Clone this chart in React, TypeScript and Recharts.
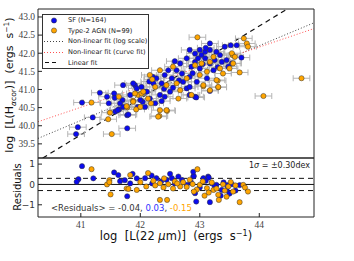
import React from 'react'
import {
  ComposedChart,
  Scatter,
  Line,
  XAxis,
  YAxis,
  ErrorBar,
  ReferenceLine,
} from 'recharts'

// main panel: log L(Halpha_cor) vs log L(22um)
const SF_X = [41.02, 41.2, 40.95, 40.92, 41.78, 41.56, 41.47, 41.58, 41.78, 41.7, 41.96, 42.36, 42.04, 41.91, 42.21, 42.07, 41.44, 41.57, 41.32, 41.71, 41.64, 41.66, 41.8, 41.88, 42.02, 42.11, 42.16, 42.27, 42.36, 42.41, 42.53, 42.61, 42.7, 42.78, 42.83, 42.92, 42.86, 42.92, 43.03, 43.09, 43.17, 43.28, 43.25, 43.34, 43.42, 43.17, 43.0, 42.83, 42.5, 42.33, 42.0, 41.83, 42.78, 42.92, 43.0, 43.45, 43.48, 43.62, 43.7, 43.17, 43.52, 43.54, 43.17, 42.94, 42.83, 41.71, 41.94, 42.22, 42.47, 42.67, 42.72, 42.95, 43.12, 43.23, 43.37, 43.09, 42.83, 42.41, 42.25, 42.08, 41.62, 42.55, 42.65, 42.88, 43.05, 42.4, 42.15, 43.3, 42.58, 42.97, 43.1]
const SF_Y = [40.64, 40.23, 39.96, 39.77, 39.93, 40.89, 40.62, 40.39, 40.29, 40.71, 40.52, 40.68, 40.66, 41.12, 41.35, 40.94, 40.8, 40.77, 40.91, 40.52, 40.45, 40.62, 40.31, 41.17, 41.07, 40.94, 40.75, 41.31, 41.17, 41.4, 41.31, 41.53, 41.44, 41.03, 41.07, 40.8, 41.63, 41.99, 41.95, 42.04, 42.09, 42.04, 41.81, 41.95, 42.18, 41.72, 41.58, 41.35, 40.94, 40.85, 40.71, 40.85, 41.86, 41.76, 42.09, 41.81, 41.63, 42.22, 41.88, 42.27, 42.22, 41.72, 40.96, 40.78, 40.85, 41.12, 41.03, 41.17, 41.53, 41.72, 41.21, 41.21, 41.31, 41.53, 41.76, 41.86, 42.09, 40.8, 40.62, 40.52, 40.43, 41.05, 41.25, 41.45, 41.7, 41.02, 41.22, 41.62, 41.78, 41.86, 42.15]
const AGN_X = [42.96, 43.74, 43.79, 43.81, 43.67, 43.56, 43.55, 44.71, 44.07, 43.54, 43.59, 43.5, 43.31, 43.3, 43.06, 42.45, 42.32, 41.18, 41.46, 41.52, 41.49, 41.64, 41.78, 41.93, 42.18, 41.96, 42.16, 42.02, 41.88, 41.77, 42.2, 42.25, 42.05, 41.91, 42.0, 41.88, 42.67, 42.64, 42.86, 43.06, 43.17, 43.28, 43.31, 43.39, 43.34, 43.12, 43.0, 42.92, 43.03, 43.17, 43.23, 42.78, 42.61, 42.44, 42.33, 42.55, 42.13, 42.33, 42.44, 42.3]
const AGN_Y = [42.44, 42.41, 42.27, 42.18, 41.47, 41.72, 41.95, 41.31, 40.82, 42.0, 41.9, 41.58, 41.06, 41.24, 41.09, 40.41, 40.27, 40.64, 40.18, 39.77, 40.36, 40.8, 40.51, 40.45, 40.62, 40.85, 41.4, 40.89, 40.69, 40.54, 41.28, 41.07, 40.94, 40.89, 40.52, 40.66, 40.98, 40.75, 40.85, 41.12, 40.98, 41.26, 41.07, 41.44, 41.58, 41.49, 41.4, 41.67, 41.72, 41.76, 41.9, 41.31, 41.17, 41.12, 41.53, 41.63, 40.75, 40.43, 40.43, 40.25]
const XERR = 0.14

// fit lines
const LIN_X = [40.36, 44.47]
const LIN_Y = [39.11, 43.22]
const LOG_X = [40.28, 44.92]
const LOG_Y = [39.65, 42.84]
const CURVE_X = [40.28, 44.92]
const CURVE_Y = [40.11, 42.68]

// residual panel
const RES_SF_X = [41.02, 40.96, 40.93, 41.21, 41.56, 41.63, 41.66, 41.78, 41.74, 41.83, 41.94, 41.87, 42.08, 42.19, 42.27, 42.44, 42.53, 42.64, 42.78, 42.89, 42.92, 42.94, 43.06, 43.14, 43.2, 43.17, 43.28, 43.37, 43.45, 43.54, 42.35, 42.58, 42.7, 42.85, 43.0, 43.1, 43.25, 43.4, 43.6, 42.5, 42.2, 43.35, 43.5, 42.9, 42.89, 43.15, 43.46, 43.67]
const RES_SF_Y = [0.9, 0.26, 0.13, 0.3, 0.59, 0.46, 0.16, -0.58, 0.21, 0.05, 0.3, 0.52, 0.31, 0.44, 0.31, 0.23, 0.31, 0.39, -0.02, 0.39, -0.43, -0.84, 0.31, 0.39, 0.06, -0.87, -0.02, -0.27, -0.27, 0.01, 0.15, 0.05, 0.22, 0.12, -0.15, 0.18, -0.1, 0.1, -0.3, 0.52, 0.05, -0.55, -0.45, 0.41, 0.62, 0.34, -0.03, -0.03]
const RES_AGN_X = [41.18, 41.5, 41.48, 41.44, 41.77, 41.83, 41.48, 41.8, 42.0, 42.13, 42.22, 41.94, 42.33, 42.39, 42.47, 42.33, 42.45, 42.58, 42.67, 42.72, 42.83, 42.96, 43.0, 43.12, 43.23, 43.31, 43.32, 43.39, 43.48, 43.56, 43.67, 43.73, 43.76, 43.81, 42.25, 42.4, 42.55, 42.62, 42.78, 42.88, 42.95, 43.05, 43.15, 43.2, 43.28, 43.42, 43.52, 43.6, 42.1, 42.9, 43.08, 43.45]
const RES_AGN_Y = [0.75, -0.49, 0.21, 0.0, -0.2, 0.46, 0.11, -0.22, 0.11, 0.56, 0.18, -0.27, 0.06, -0.15, 0.01, -0.76, -0.76, 0.15, -0.1, 0.11, 0.23, 0.75, -0.02, -0.18, -0.27, -0.51, -0.76, 0.01, -0.1, -0.35, -0.87, -0.02, -0.15, -0.35, -0.05, 0.3, -0.2, 0.05, -0.12, 0.02, -0.25, 0.15, -0.4, 0.1, -0.2, -0.3, 0.12, -0.05, -0.1, -0.35, -0.55, -0.6]
const SIGMA = 0.3

const X_DOMAIN = [40.28, 44.92]
const X_TICKS = [41, 42, 43, 44]
const Y_DOMAIN = [39.11, 43.22]
const Y_TICKS = [39.5, 40.0, 40.5, 41.0, 41.5, 42.0, 42.5, 43.0]
const R_DOMAIN = [-1.6, 1.3]
const R_TICKS = [-1, 0, 1]

const BLUE = '#0a0af0'
const ORANGE = '#ffa500'
const SANS = "'DejaVu Sans', sans-serif"
const SERIF = "'Liberation Serif', serif"

const pts = (xs: number[], ys: number[], ex?: number) =>
  xs.map((x, i) => ({ x, y: ys[i], ex }))

const dot = (fill: string) => (p: any) =>
  <circle cx={p.cx} cy={p.cy} r={2.6} fill={fill} stroke="#333" strokeWidth={0.5} />

const fmtRes = (v: number) => (v < 0 ? `\u2212${-v}` : `${v}`)

function LegendBox() {
  const rows: [React.ReactNode, string][] = [
    [<circle cx={10} cy={5.5} r={2.6} fill={BLUE} stroke="#333" strokeWidth={0.5} />, 'SF (N=164)'],
    [<circle cx={10} cy={5.5} r={2.6} fill={ORANGE} stroke="#333" strokeWidth={0.5} />, 'Type-2 AGN (N=99)'],
    [<line x1={0} x2={20} y1={5.5} y2={5.5} stroke="#444" strokeDasharray="1 2" />, 'Non-linear fit (log scale)'],
    [<line x1={0} x2={20} y1={5.5} y2={5.5} stroke="#ff5050" strokeDasharray="1 2" />, 'Non-linear fit (curve fit)'],
    [<line x1={1} x2={14} y1={5.5} y2={5.5} stroke="#111" strokeWidth={1.2} strokeDasharray="4 3" />, 'Linear fit'],
  ]
  return (
    <div style={{ position: 'absolute', left: 42, top: 14, width: 107, height: 55, boxSizing: 'border-box', border: '1px solid #333', background: '#fff', fontFamily: SANS, fontSize: 6.6, color: '#222' }}>
      {rows.map(([m, t], i) => (
        <div key={i} style={{ display: 'flex', alignItems: 'center', height: 10.6 }}>
          <svg width={22} height={11} style={{ marginLeft: 1 }}>{m}</svg>
          <span style={{ marginLeft: 2, whiteSpace: 'nowrap' }}>{t}</span>
        </div>
      ))}
    </div>
  )
}

export default function App() {
  const sf = pts(SF_X, SF_Y, XERR)
  const agn = pts(AGN_X, AGN_Y, XERR)
  const lin = pts(LIN_X, LIN_Y)
  const logFit = pts(LOG_X, LOG_Y)
  const curveFit = pts(CURVE_X, CURVE_Y)
  const resSf = pts(RES_SF_X, RES_SF_Y)
  const resAgn = pts(RES_AGN_X, RES_AGN_Y)

  const spine = { stroke: '#222', strokeWidth: 1 }
  const inner = { tickSize: -4, tickLine: spine, axisLine: spine, allowDataOverflow: true }

  return (
    <div style={{ position: 'absolute', left: 0, top: 0, width: 354, height: 261, background: '#fff', overflow: 'hidden' }}>
      <div style={{ position: 'absolute', left: 0, top: 0 }}>
        <ComposedChart width={354} height={160} margin={{ top: 8, right: 39, bottom: 1, left: 0 }}>
          <XAxis xAxisId="b" dataKey="x" type="number" domain={X_DOMAIN} ticks={X_TICKS} height={1} tick={false} {...inner} />
          <XAxis xAxisId="t" orientation="top" type="number" domain={X_DOMAIN} ticks={X_TICKS} height={1} tick={false} {...inner} />
          <YAxis yAxisId="l" dataKey="y" type="number" domain={Y_DOMAIN} ticks={Y_TICKS} width={38} tickMargin={7}
            tickFormatter={(v: number) => v.toFixed(1)} tick={{ fontSize: 9.5, fontFamily: SERIF, fill: '#444' }} {...inner} />
          <YAxis yAxisId="r" orientation="right" type="number" domain={Y_DOMAIN} ticks={Y_TICKS} width={1} tick={false} {...inner} />
          <Line xAxisId="b" yAxisId="l" data={logFit} dataKey="y" stroke="#444" strokeWidth={1} strokeDasharray="1 2" dot={false} isAnimationActive={false} />
          <Line xAxisId="b" yAxisId="l" data={curveFit} dataKey="y" stroke="#ff5050" strokeWidth={1} strokeDasharray="1 2" dot={false} isAnimationActive={false} />
          <Line xAxisId="b" yAxisId="l" data={lin} dataKey="y" stroke="#111" strokeWidth={1.2} strokeDasharray="5 4" dot={false} isAnimationActive={false} />
          <Scatter xAxisId="b" yAxisId="l" data={sf} shape={dot(BLUE)} isAnimationActive={false}>
            <ErrorBar dataKey="ex" direction="x" width={3} stroke="#b5b5b5" strokeWidth={1} />
          </Scatter>
          <Scatter xAxisId="b" yAxisId="l" data={agn} shape={dot(ORANGE)} isAnimationActive={false}>
            <ErrorBar dataKey="ex" direction="x" width={3} stroke="#b5b5b5" strokeWidth={1} />
          </Scatter>
        </ComposedChart>
      </div>

      <div style={{ position: 'absolute', left: 0, top: 149 }}>
        <ComposedChart width={354} height={88} margin={{ top: 8, right: 39, bottom: 0, left: 0 }}>
          <XAxis xAxisId="t" orientation="top" type="number" domain={X_DOMAIN} ticks={X_TICKS} height={1} tick={false} {...inner} />
          <XAxis xAxisId="b" dataKey="x" type="number" domain={X_DOMAIN} ticks={X_TICKS} height={20} tickMargin={8}
            tick={{ fontSize: 9.5, fontFamily: SERIF, fill: '#444' }} {...inner} />
          <YAxis yAxisId="l" dataKey="y" type="number" domain={R_DOMAIN} ticks={R_TICKS} width={38} tickMargin={7}
            tickFormatter={fmtRes} tick={{ fontSize: 9, fontFamily: SANS, fill: '#333' }} {...inner} />
          <YAxis yAxisId="r" orientation="right" type="number" domain={R_DOMAIN} ticks={R_TICKS} width={1} tick={false} {...inner} />
          <ReferenceLine xAxisId="b" yAxisId="l" y={0} stroke="#111" strokeWidth={1} />
          <ReferenceLine xAxisId="b" yAxisId="l" y={SIGMA} stroke="#111" strokeWidth={1} strokeDasharray="5 4" />
          <ReferenceLine xAxisId="b" yAxisId="l" y={-SIGMA} stroke="#111" strokeWidth={1} strokeDasharray="5 4" />
          <Scatter xAxisId="b" yAxisId="l" data={resSf} shape={dot(BLUE)} isAnimationActive={false} />
          <Scatter xAxisId="b" yAxisId="l" data={resAgn} shape={dot(ORANGE)} isAnimationActive={false} />
        </ComposedChart>
      </div>

      <LegendBox />

      <div style={{ position: 'absolute', right: 44, top: 161, fontFamily: SANS, fontSize: 8, color: '#222', whiteSpace: 'nowrap' }}>
        1<i>σ</i> = ±0.30dex
      </div>
      <div style={{ position: 'absolute', left: 51, top: 203, fontFamily: SANS, fontSize: 8.5, color: '#333', whiteSpace: 'pre' }}>
        {'<Residuals> = -0.04, '}<span style={{ color: '#3030ff' }}>0.03</span>{', '}<span style={{ color: ORANGE }}>-0.15</span>
      </div>

      <div style={{ position: 'absolute', left: 10, top: 85, transform: 'translate(-50%, -50%) rotate(-90deg)', fontFamily: SANS, fontSize: 11, color: '#111', whiteSpace: 'pre' }}>
        {'log  [L(H'}<sub style={{ fontSize: 7.5 }}><i>α</i>cor</sub>{')]  (ergs  s'}<sup style={{ fontSize: 7.5 }}>−1</sup>{')'}
      </div>
      <div style={{ position: 'absolute', left: 17, top: 187, transform: 'translate(-50%, -50%) rotate(-90deg)', fontFamily: SANS, fontSize: 10, color: '#111', whiteSpace: 'pre' }}>
        Residuals
      </div>
      <div style={{ position: 'absolute', left: 176, top: 236, transform: 'translate(-50%, -50%)', fontFamily: SANS, fontSize: 11.5, color: '#111', whiteSpace: 'pre' }}>
        {'log  [L(22 '}<i>μ</i>{'m)]  (ergs  s'}<sup style={{ fontSize: 8 }}>−1</sup>{')'}
      </div>
    </div>
  )
}
